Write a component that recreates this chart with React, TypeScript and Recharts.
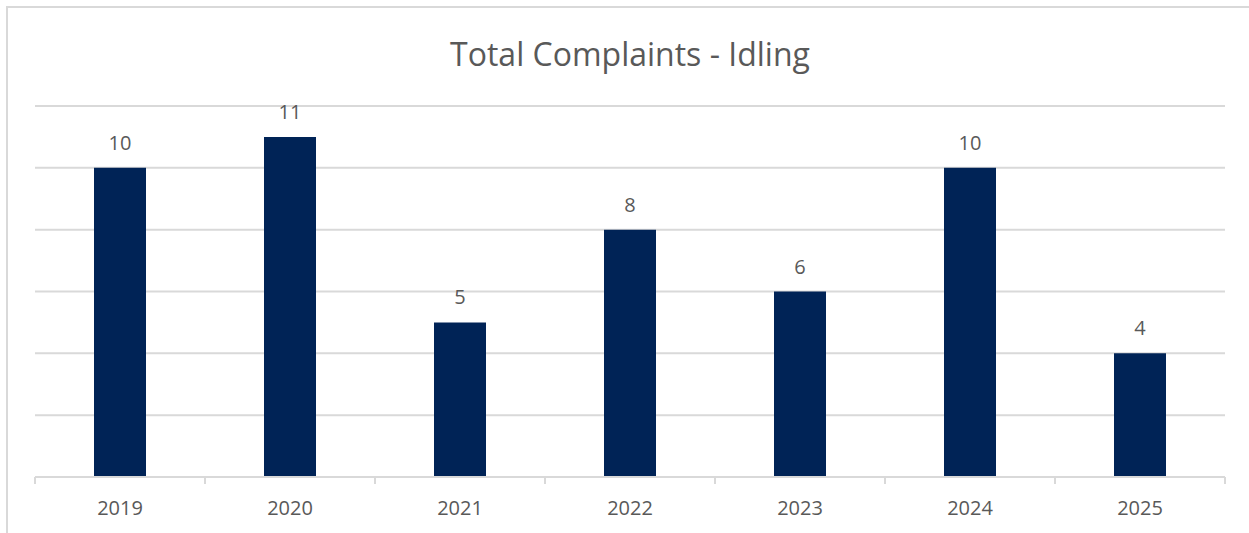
import { BarChart, Bar, XAxis, YAxis, CartesianGrid, LabelList } from 'recharts';

const years = ['2019', '2020', '2021', '2022', '2023', '2024', '2025'];
const complaints = [10, 11, 5, 8, 6, 10, 4];
const yTicks = [0, 2, 4, 6, 8, 10, 12];

const data = years.map((year, i) => ({ year, value: complaints[i] }));

const FONT = '"Open Sans", "Liberation Sans", sans-serif';
const GRID = '#d9d9d9';
const TEXT = '#595959';

// ticks sit on category boundaries, like the office chart
function YearTick(props: any) {
  const { x, y, payload, index } = props;
  const half = 85;
  return (
    <g>
      <line x1={x - half} y1={y - 8} x2={x - half} y2={y - 1} stroke={GRID} strokeWidth={2} />
      {index === years.length - 1 && (
        <line x1={x + half} y1={y - 8} x2={x + half} y2={y - 1} stroke={GRID} strokeWidth={2} />
      )}
      <text x={x} y={y + 30} textAnchor="middle" fill={TEXT} fontSize={20} fontFamily={FONT}>
        {payload.value}
      </text>
    </g>
  );
}

export default function App() {
  return (
    <div
      style={{
        position: 'absolute',
        left: 6,
        top: 6,
        width: 1260,
        height: 540,
        border: `2px solid ${GRID}`,
        background: '#fff',
      }}
    >
      <div
        style={{
          position: 'absolute',
          left: 0,
          top: 26,
          width: 1244,
          textAlign: 'center',
          fontFamily: FONT,
          fontSize: 32,
          color: TEXT,
          lineHeight: '40px',
        }}
      >
        Total Complaints - Idling
      </div>
      <BarChart
        width={1260}
        height={540}
        data={data}
        margin={{ top: 98, right: 43, bottom: 31, left: 27 }}
        barSize={52}
      >
        <CartesianGrid horizontal vertical={false} stroke={GRID} strokeWidth={2} />
        <YAxis hide domain={[0, 12]} ticks={yTicks} />
        <XAxis
          dataKey="year"
          axisLine={{ stroke: GRID, strokeWidth: 2 }}
          tickLine={false}
          tick={<YearTick />}
          interval={0}
          height={40}
        />
        <Bar dataKey="value" fill="#002356" isAnimationActive={false}>
          <LabelList dataKey="value" position="top" offset={18} fill={TEXT} fontSize={20} fontFamily={FONT} />
        </Bar>
      </BarChart>
    </div>
  );
}
